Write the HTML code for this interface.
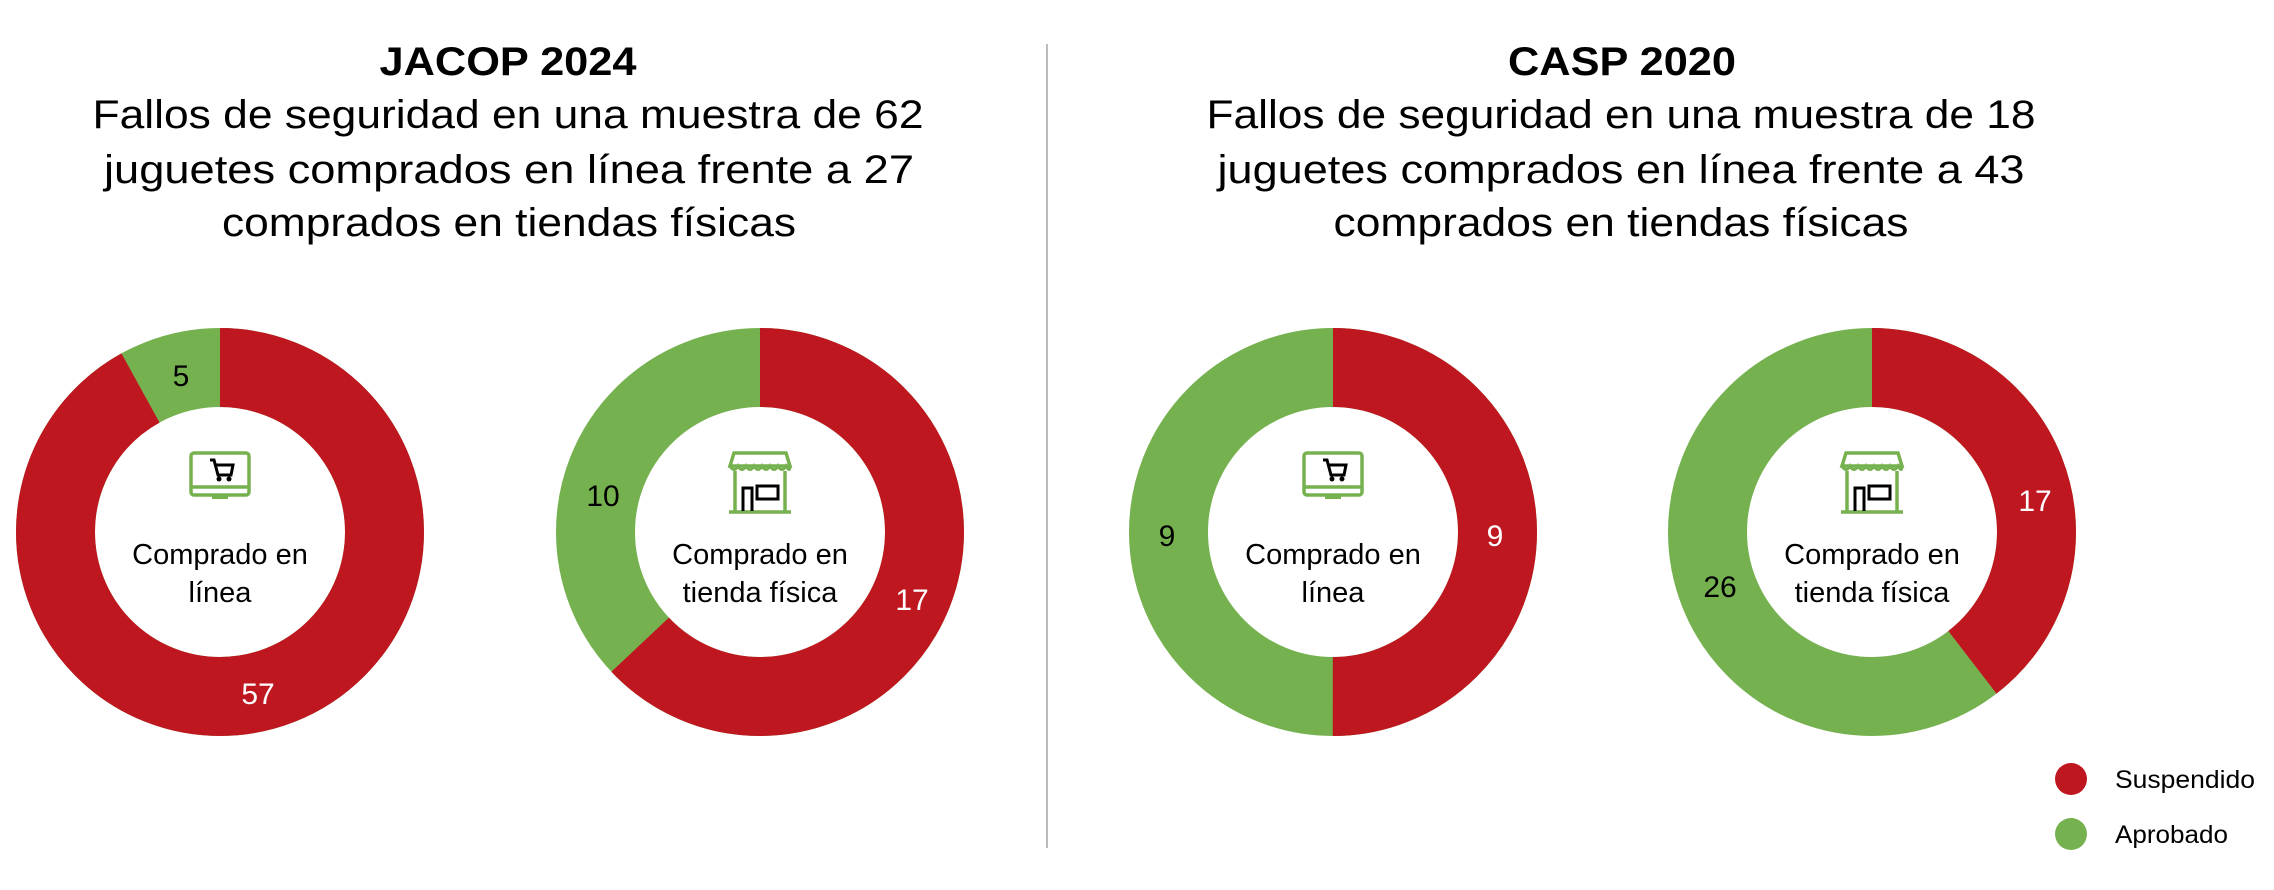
<!DOCTYPE html>
<html><head><meta charset="utf-8"><style>
html,body{margin:0;padding:0;background:#fff;}
svg{display:block;}
text{font-family:"Liberation Sans",sans-serif;}
</style></head><body>
<svg width="2274" height="890" viewBox="0 0 2274 890" xmlns="http://www.w3.org/2000/svg">
<rect width="2274" height="890" fill="#fff"/>
<line x1="1047" y1="44" x2="1047" y2="848" stroke="#bbb" stroke-width="2"/>
<g fill="#000" text-anchor="middle">
<text x="508" y="75" font-size="40" font-weight="bold" textLength="257" lengthAdjust="spacingAndGlyphs">JACOP 2024</text>
<text x="508" y="128" font-size="40" textLength="831" lengthAdjust="spacingAndGlyphs">Fallos de seguridad en una muestra de 62</text>
<text x="509" y="183" font-size="40" textLength="810" lengthAdjust="spacingAndGlyphs">juguetes comprados en línea frente a 27</text>
<text x="509" y="236" font-size="40" textLength="574" lengthAdjust="spacingAndGlyphs">comprados en tiendas físicas</text>
<text x="1622" y="75" font-size="40" font-weight="bold" textLength="228" lengthAdjust="spacingAndGlyphs">CASP 2020</text>
<text x="1621" y="128" font-size="40" textLength="829" lengthAdjust="spacingAndGlyphs">Fallos de seguridad en una muestra de 18</text>
<text x="1621" y="183" font-size="40" textLength="807" lengthAdjust="spacingAndGlyphs">juguetes comprados en línea frente a 43</text>
<text x="1621" y="236" font-size="40" textLength="575" lengthAdjust="spacingAndGlyphs">comprados en tiendas físicas</text>
</g>
<defs>
<g id="mon">
<rect x="-29" y="-30" width="58" height="42" rx="3" fill="none" stroke="#76B150" stroke-width="3.5"/>
<line x1="-29" y1="4" x2="29" y2="4" stroke="#76B150" stroke-width="3.5"/>
<rect x="-8" y="12" width="16" height="4" fill="#76B150"/>
<path d="M-10 -23 L-6 -23 L-2 -8 L11 -8 L13 -18 L-4 -18" fill="none" stroke="#000" stroke-width="3"/>
<circle cx="-1" cy="-4" r="2.5" fill="#000"/><circle cx="9" cy="-4" r="2.5" fill="#000"/>
</g>
<g id="shop">
<path d="M-26 -30 L26 -30 L30 -17 L-30 -17 Z" fill="none" stroke="#76B150" stroke-width="3.5"/>
<path d="M-30 -17 q4 7 8 0 q4 7 8 0 q4 7 8 0 q4 7 8 0 q4 7 8 0 q4 7 8 0 q4 7 8 0 q4 7 4 0" fill="none" stroke="#76B150" stroke-width="3"/>
<line x1="-25" y1="-12" x2="-25" y2="28" stroke="#76B150" stroke-width="3.5"/>
<line x1="25" y1="-12" x2="25" y2="28" stroke="#76B150" stroke-width="3.5"/>
<line x1="-31" y1="29" x2="31" y2="29" stroke="#76B150" stroke-width="3.5"/>
<path d="M-17 28 L-17 5 L-8 5 L-8 28" fill="none" stroke="#000" stroke-width="3"/>
<rect x="-3" y="3" width="21" height="13" fill="none" stroke="#000" stroke-width="3"/>
</g>
</defs>
<g fill="none" stroke-width="79">
<circle cx="220" cy="532" r="164.5" stroke="#76B150"/>
<circle cx="220" cy="532" r="164.5" stroke="#BF1720" stroke-dasharray="950.2 2000" transform="rotate(-90 220 532)"/>
<circle cx="760" cy="532" r="164.5" stroke="#76B150"/>
<circle cx="760" cy="532" r="164.5" stroke="#BF1720" stroke-dasharray="650.8 2000" transform="rotate(-90 760 532)"/>
<circle cx="1333" cy="532" r="164.5" stroke="#76B150"/>
<circle cx="1333" cy="532" r="164.5" stroke="#BF1720" stroke-dasharray="516.8 2000" transform="rotate(-90 1333 532)"/>
<circle cx="1872" cy="532" r="164.5" stroke="#76B150"/>
<circle cx="1872" cy="532" r="164.5" stroke="#BF1720" stroke-dasharray="408.6 2000" transform="rotate(-90 1872 532)"/>
</g>
<use href="#mon" x="220" y="483"/>
<use href="#shop" x="760" y="483"/>
<use href="#mon" x="1333" y="483"/>
<use href="#shop" x="1872" y="483"/>
<g font-size="29" text-anchor="middle" fill="#000">
<text x="220" y="564">Comprado en</text><text x="220" y="602">línea</text>
<text x="760" y="564">Comprado en</text><text x="760" y="602">tienda física</text>
<text x="1333" y="564">Comprado en</text><text x="1333" y="602">línea</text>
<text x="1872" y="564">Comprado en</text><text x="1872" y="602">tienda física</text>
</g>
<g font-size="30" text-anchor="middle">
<text x="181" y="386" fill="#000">5</text>
<text x="258" y="704" fill="#fff">57</text>
<text x="603" y="506" fill="#000">10</text>
<text x="912" y="610" fill="#fff">17</text>
<text x="1167" y="546" fill="#000">9</text>
<text x="1495" y="546" fill="#fff">9</text>
<text x="2035" y="511" fill="#fff">17</text>
<text x="1720" y="597" fill="#000">26</text>
</g>
<circle cx="2071" cy="779" r="16" fill="#BF1720"/>
<circle cx="2071" cy="834" r="16" fill="#76B150"/>
<g font-size="25" fill="#000">
<text x="2115" y="788" textLength="140" lengthAdjust="spacingAndGlyphs">Suspendido</text>
<text x="2115" y="843" textLength="113" lengthAdjust="spacingAndGlyphs">Aprobado</text>
</g>
</svg>
</body></html>
